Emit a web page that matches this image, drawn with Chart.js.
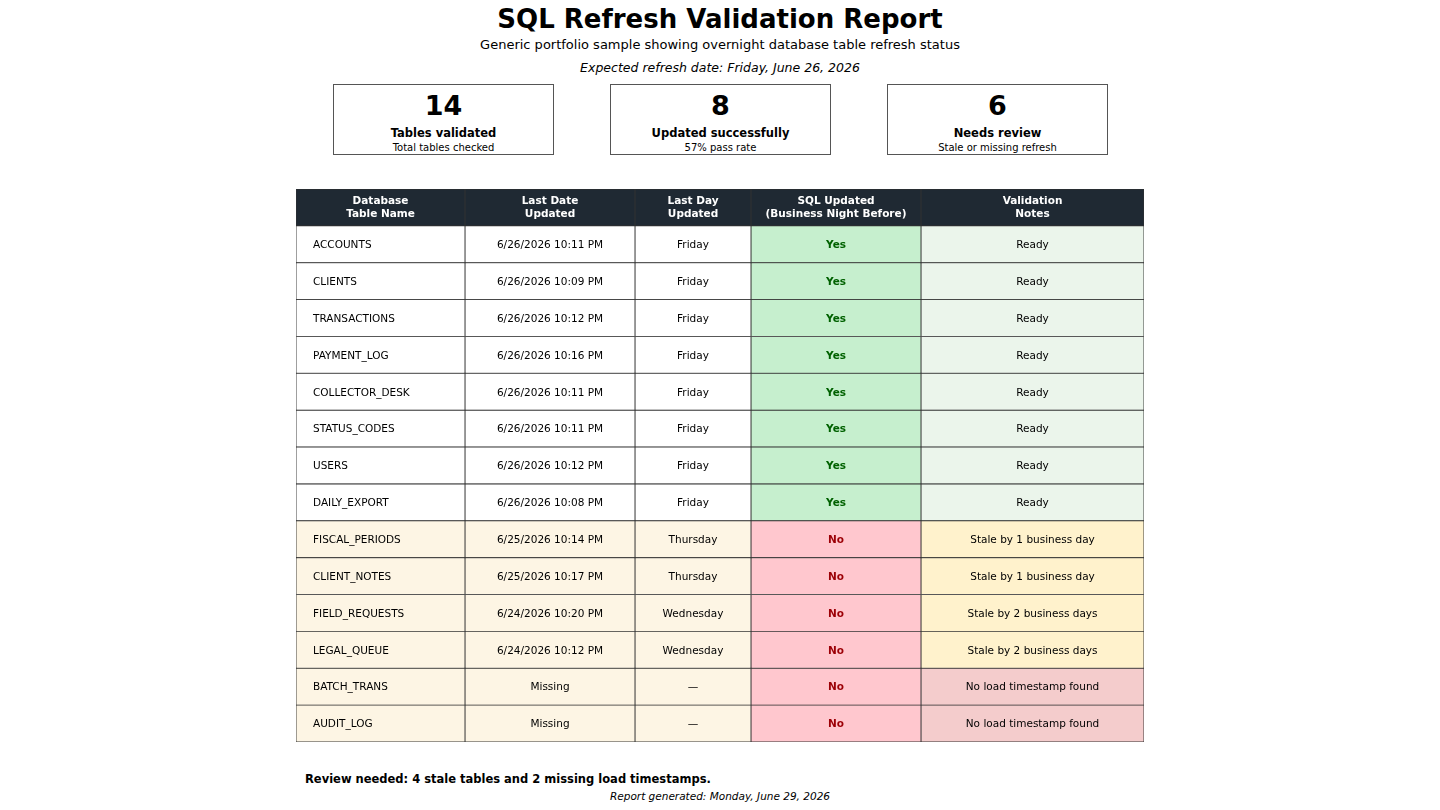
<!DOCTYPE html>
<html><head><meta charset="utf-8">
<script src="https://cdn.jsdelivr.net/npm/chart.js@4"></script>
<style>
body{margin:0;width:1440px;height:810px;position:relative;font-family:"DejaVu Sans",sans-serif;background:#fff;overflow:hidden}
.t{position:absolute;left:0;width:1440px;text-align:center;color:#000}
.kpi{position:absolute;top:84px;width:219px;height:69px;border:1px solid #555;text-align:center}
.kpi .n{font-size:27px;font-weight:bold;margin-top:6px;line-height:30px}
.kpi .l{font-size:11.5px;font-weight:bold;margin-top:5px}
.kpi .s{font-size:10px;margin-top:2px}
canvas{position:absolute;left:0;top:0}
</style></head><body>
<div class="t" style="top:4px;font-size:26px;font-weight:bold">SQL Refresh Validation Report</div>
<div class="t" style="top:37px;font-size:13px">Generic portfolio sample showing overnight database table refresh status</div>
<div class="t" style="top:60px;font-size:12.5px;font-style:italic">Expected refresh date: Friday, June 26, 2026</div>
<div class="kpi" style="left:333px"><div class="n">14</div><div class="l">Tables validated</div><div class="s">Total tables checked</div></div>
<div class="kpi" style="left:610px"><div class="n">8</div><div class="l">Updated successfully</div><div class="s">57% pass rate</div></div>
<div class="kpi" style="left:887px"><div class="n">6</div><div class="l">Needs review</div><div class="s">Stale or missing refresh</div></div>
<div style="position:absolute;left:305px;top:772px;font-size:11.5px;font-weight:bold">Review needed: 4 stale tables and 2 missing load timestamps.</div>
<div class="t" style="top:790px;font-size:10.5px;font-style:italic">Report generated: Monday, June 29, 2026</div>
<canvas id="c" width="1440" height="810"></canvas>
<script>
const headers = ["Database\nTable Name","Last Date\nUpdated","Last Day\nUpdated","SQL Updated\n(Business Night Before)","Validation\nNotes"];
const tables = ["ACCOUNTS","CLIENTS","TRANSACTIONS","PAYMENT_LOG","COLLECTOR_DESK","STATUS_CODES","USERS","DAILY_EXPORT","FISCAL_PERIODS","CLIENT_NOTES","FIELD_REQUESTS","LEGAL_QUEUE","BATCH_TRANS","AUDIT_LOG"];
const lastDates = ["6/26/2026 10:11 PM","6/26/2026 10:09 PM","6/26/2026 10:12 PM","6/26/2026 10:16 PM","6/26/2026 10:11 PM","6/26/2026 10:11 PM","6/26/2026 10:12 PM","6/26/2026 10:08 PM","6/25/2026 10:14 PM","6/25/2026 10:17 PM","6/24/2026 10:20 PM","6/24/2026 10:12 PM","Missing","Missing"];
const lastDays = ["Friday","Friday","Friday","Friday","Friday","Friday","Friday","Friday","Thursday","Thursday","Wednesday","Wednesday","—","—"];
const updated = ["Yes","Yes","Yes","Yes","Yes","Yes","Yes","Yes","No","No","No","No","No","No"];
const notes = ["Ready","Ready","Ready","Ready","Ready","Ready","Ready","Ready","Stale by 1 business day","Stale by 1 business day","Stale by 2 business days","Stale by 2 business days","No load timestamp found","No load timestamp found"];

// layout (column widths in px)
const colW = [169,170,116,170,223];
const edges = colW.reduce((a,w)=>{a.push(a[a.length-1]+w);return a;},[0]);
const rowLabels = ["__header__", ...tables];
const columns = [tables,lastDates,lastDays,updated,notes];

function cellColor(c,i){
  if(i<0) return "#1f2933";
  const ok = updated[i]==="Yes";
  if(c===3) return ok?"#c6efce":"#ffc7ce";
  if(c===4) return ok?"#ebf5eb":(notes[i].startsWith("No load")?"#f4cccc":"#fff2cc");
  return ok?"#ffffff":"#fdf5e4";
}
const datasets = columns.map((col,c)=>({
  data: rowLabels.map((r,ri)=>({y:r, x:[edges[c],edges[c+1]]})),
  backgroundColor: rowLabels.map((r,ri)=>cellColor(c,ri-1)),
  borderColor:"#333", borderWidth:0.8, borderSkipped:false,
  barPercentage:1, categoryPercentage:1, grouped:false
}));

const textPlugin = {id:"txt", afterDatasetsDraw(ch){
  const ctx=ch.ctx, xs=ch.scales.x, ys=ch.scales.y;
  ctx.save(); ctx.textBaseline="middle";
  rowLabels.forEach((r,ri)=>{
    const yc = ys.getPixelForValue(ri);
    columns.forEach((col,c)=>{
      const x0=xs.getPixelForValue(edges[c]), x1=xs.getPixelForValue(edges[c+1]);
      if(ri===0){
        ctx.fillStyle="#fff"; ctx.font="bold 10.5px 'DejaVu Sans'"; ctx.textAlign="center";
        headers[c].split("\n").forEach((ln,k)=>ctx.fillText(ln,(x0+x1)/2,yc-6+k*12.5));
        return;
      }
      const v = col[ri-1];
      ctx.font="10.5px 'DejaVu Sans'"; ctx.fillStyle="#000";
      if(c===3){ctx.font="bold 10.5px 'DejaVu Sans'"; ctx.fillStyle=v==="Yes"?"#006100":"#9c0006";}
      if(c===0){ctx.textAlign="left"; ctx.fillText(v,x0+17,yc+1);}
      else {ctx.textAlign="center"; ctx.fillText(v,(x0+x1)/2,yc+1);}
    });
  });
  ctx.restore();
}};

new Chart(document.getElementById("c"),{
  type:"bar",
  data:{labels:rowLabels,datasets},
  options:{indexAxis:"y",responsive:false,animation:false,
    layout:{padding:{left:296,right:296,top:189,bottom:68}},
    scales:{x:{type:"linear",min:0,max:edges[edges.length-1],display:false},
            y:{type:"category",display:false}},
    plugins:{legend:{display:false},tooltip:{enabled:false}}},
  plugins:[textPlugin]
});
</script></body></html>
